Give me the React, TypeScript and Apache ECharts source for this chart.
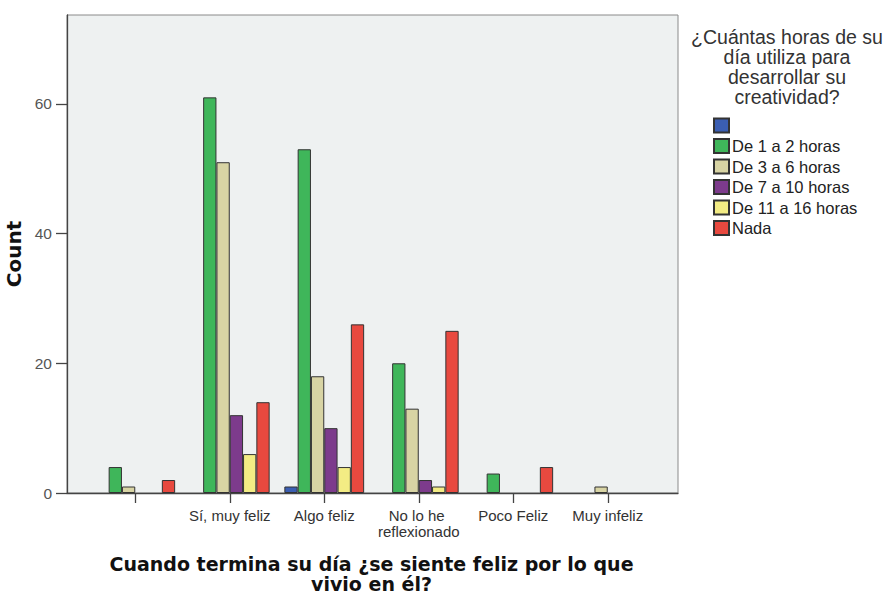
import React, { useEffect, useRef } from "react";
import * as echarts from "echarts";

const categories = ["", "Sí, muy feliz", "Algo feliz", "No lo he reflexionado", "Poco Feliz", "Muy infeliz"];
const seriesNames = [" ", "De 1 a 2 horas", "De 3 a 6 horas", "De 7 a 10 horas", "De 11 a 16 horas", "Nada"];
const blankValues = [0, 0, 1, 0, 0, 0];
const h1to2Values = [4, 61, 53, 20, 3, 0];
const h3to6Values = [1, 51, 18, 13, 0, 1];
const h7to10Values = [0, 12, 10, 2, 0, 0];
const h11to16Values = [0, 6, 4, 1, 0, 0];
const nadaValues = [2, 14, 26, 25, 4, 0];
const yTicks = [0, 20, 40, 60];
const legendTitle = "¿Cuántas horas de su\ndía utiliza para\ndesarrollar su\ncreatividad?";
const xTitle = "Cuando termina su día ¿se siente feliz por lo que\nvivio en él?";
const yTitle = "Count";

const allValues = [blankValues, h1to2Values, h3to6Values, h7to10Values, h11to16Values, nadaValues];
const colors = ["#3b5eb2", "#3fb65a", "#d8d4a4", "#7d3b8c", "#f3ec84", "#e8493f"];

export default function App() {
  const ref = useRef<HTMLDivElement>(null);
  useEffect(() => {
    if (!ref.current) return;
    const chart = echarts.init(ref.current, null, { renderer: "svg" });
    const font = "'Liberation Sans', Arial, sans-serif";
    const boldFont = "'DejaVu Sans', Verdana, sans-serif";
    const yMax = 73.7;
    chart.setOption({
      animation: false,
      backgroundColor: "#ffffff",
      grid: [
        { left: 67, top: 15, width: 611, height: 478, show: true, backgroundColor: "#eef1f1", borderColor: "#8a8a8a", borderWidth: 1, containLabel: false, outerBoundsMode: "none" },
        { left: 88, top: 15, width: 567, height: 478, containLabel: false, outerBoundsMode: "none" },
      ],
      xAxis: [
        {
          gridIndex: 0, type: "value", min: 0, max: 1,
          axisLine: { show: true, lineStyle: { color: "#444", width: 1.3 } },
          axisTick: { show: false }, axisLabel: { show: false }, splitLine: { show: false },
        },
        {
          gridIndex: 1, type: "category", data: categories,
          axisLine: { show: false },
          axisTick: { show: true, alignWithLabel: true, length: 10, lineStyle: { color: "#444", width: 1.3 } },
          axisLabel: { margin: 14, fontSize: 15, color: "#333", fontFamily: font, width: 110, overflow: "break", lineHeight: 16, interval: 0 },
          splitLine: { show: false },
          name: xTitle, nameLocation: "middle", nameGap: 61,
          nameTextStyle: { fontSize: 19, fontWeight: "bold", fontFamily: boldFont, color: "#111", lineHeight: 20 },
        },
      ],
      yAxis: [
        {
          gridIndex: 0, type: "value", min: 0, max: yMax,
          axisLine: { show: true, lineStyle: { color: "#444", width: 1.3 } },
          axisTick: { show: true, length: 11, customValues: yTicks, lineStyle: { color: "#444", width: 1.3 } },
          axisLabel: { margin: 15, fontSize: 15.5, color: "#555", fontFamily: font, customValues: yTicks },
          splitLine: { show: false },
          name: yTitle, nameLocation: "middle", nameGap: 42,
          nameTextStyle: { fontSize: 20, fontWeight: "bold", fontFamily: boldFont, color: "#111" },
        },
        { gridIndex: 1, type: "value", min: 0, max: yMax, show: false, splitLine: { show: false } },
      ],
      legend: {
        orient: "vertical", left: 713, top: 117, padding: 0,
        itemWidth: 15, itemHeight: 14, itemGap: 3.5, icon: "rect",
        textStyle: { fontSize: 16.5, color: "#222", fontFamily: font, lineHeight: 14, padding: [0, 0, 0, -2] },
        data: seriesNames,
      },
      graphic: [
        {
          type: "text", x: 787, y: 27,
          style: { text: legendTitle, align: "center", verticalAlign: "top", fontSize: 19.5, lineHeight: 20, fill: "#333", fontFamily: font },
        },
      ],
      series: seriesNames.map((name, i) => ({
        name, type: "bar", xAxisIndex: 1, yAxisIndex: 1,
        barWidth: 13.3, barGap: "0%",
        itemStyle: { color: colors[i], borderColor: "#333", borderWidth: 1 },
        data: allValues[i].map((v) => (v === 0 ? null : v)),
      })),
    });
    return () => chart.dispose();
  }, []);
  return <div ref={ref} style={{ width: 885, height: 594, position: "absolute", left: 0, top: 0 }} />;
}
